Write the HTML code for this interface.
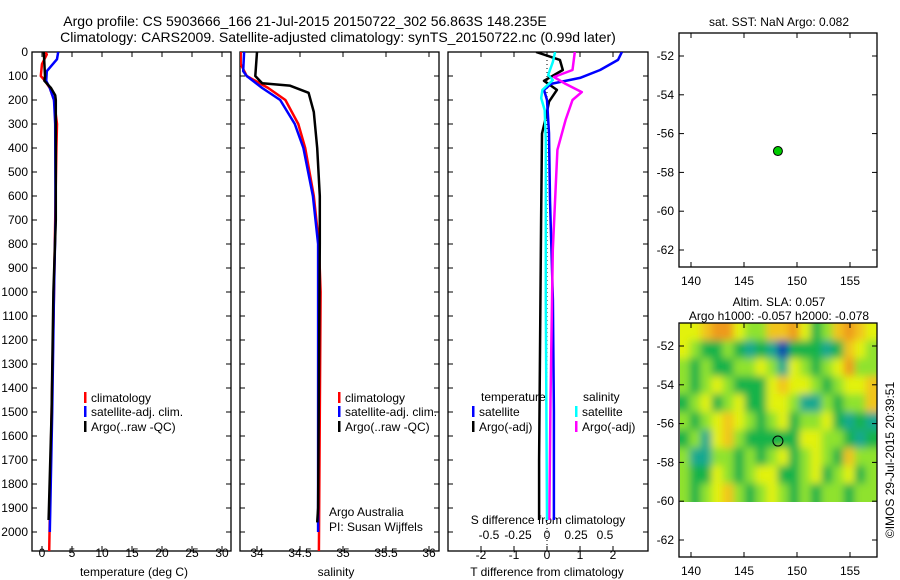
<!DOCTYPE html>
<html><head><meta charset="utf-8"><style>
body{margin:0;background:#fff;}
svg{display:block;font-family:"Liberation Sans",sans-serif;}
</style></head><body>
<svg id="c" width="900" height="580" xmlns="http://www.w3.org/2000/svg"></svg>
<script>
// ---------- data ----------
const tDepth = [0,10,50,100,120,150,200,300,400,700,1000,1500,2080];
const tClim  = [0.5,0.8,0,-0.2,0.5,1.3,2.0,2.5,2.4,2.2,2.0,1.6,1.2];
const tSatDepth = [0,30,80,120,150,200,300,700,1000,1500,2000];
const tSat   = [2.7,2.5,0.8,0.7,1.3,2.0,2.2,2.25,2.0,1.7,1.3];
const tArgoDepth = [0,100,120,150,180,200,700,1000,1500,1950];
const tArgo  = [0.3,0.5,0.4,1.5,2.2,2.3,2.3,1.9,1.6,1.1];

const sDepth = [0,50,100,150,200,300,400,600,800,1000,2080];
const sClim  = [33.81,33.81,33.88,34.13,34.33,34.48,34.56,34.66,34.72,34.74,34.72];
const sSatDepth = [0,80,100,150,200,300,400,600,800,2000];
const sSat   = [33.85,33.84,33.88,34.06,34.27,34.44,34.54,34.65,34.71,34.71];
const sArgoDepth = [0,100,130,140,170,250,400,600,800,1900,1960];
const sArgo  = [34.0,33.98,34.06,34.38,34.6,34.66,34.7,34.73,34.73,34.71,34.7];

const dTArgoDepth = [0,33,75,120,158,207,270,340,700,1200,1700,1950];
const dTArgo = [-0.33,0.39,0.48,-0.09,0.30,0.06,-0.03,-0.15,-0.18,-0.21,-0.24,-0.24];
const dTSatDepth = [0,33,75,108,133,158,200,338,617,1033,1500,1950];
const dTSat  = [2.27,2.15,1.61,1.0,0.12,-0.09,0,0.06,0.09,0.18,0.21,0.21];
const dSSatDepth = [0,42,96,117,158,192,242,367,1033,1950];
const dSSat  = [0.07,0.05,0.01,0.05,-0.04,-0.05,-0.02,-0.01,-0.01,0];
const dSArgoDepth = [0,75,104,133,167,200,283,408,825,1450,1950];
const dSArgo = [0.24,0.22,0.06,0.16,0.30,0.22,0.16,0.09,0.05,0.03,0.02];

const depthTicks = [0,100,200,300,400,500,600,700,800,900,1000,1100,1200,1300,1400,1500,1600,1700,1800,1900,2000];
const tTicks = [0,5,10,15,20,25,30];
const sTicks = [34,34.5,35,35.5,36];
const dTTicks = [-2,-1,0,1,2];
const dSTicks = [-0.5,-0.25,0,0.25,0.5];
const dSTickLabels = ["-0.5","-0.25","0","0.25","0.5"];
const lonTicks = [140,145,150,155];
const latTicks = [-52,-54,-56,-58,-60,-62];
const argoLon = 148.2, argoLat = -56.9;

const slaGrid = [
[2,2,3,4,4,2,1,1,3,3,4,2,0,1,3,4,3,2],
[2,1,0,0,1,0,-1,0,-1,-3,0,0,0,-1,0,3,2,1],
[1,0,1,0,0,1,1,2,1,-1,2,1,0,1,2,4,1,1],
[1,0,1,2,1,0,0,0,2,3,2,2,1,0,1,2,2,3],
[0,1,2,0,1,2,0,0,2,2,1,-1,-1,1,0,1,1,3],
[1,0,1,2,3,2,1,0,1,2,0,1,1,2,0,-1,0,-1],
[0,1,-1,2,3,1,0,0,0,0,0,2,2,1,1,0,-1,0],
[1,-1,-1,1,1,0,1,0,1,2,0,1,2,1,0,3,1,1],
[1,0,0,2,1,0,1,2,2,0,0,1,2,0,1,2,0,1],
[1,0,1,2,3,1,0,1,2,1,0,1,0,1,1,0,1,1]];

// ---------- helpers ----------
const svg = document.getElementById('c');
const NS = 'http://www.w3.org/2000/svg';
function mk(tag, attrs, parent){const e=document.createElementNS(NS,tag);for(const k in attrs)e.setAttribute(k,attrs[k]);(parent||svg).appendChild(e);return e;}
function txt(x,y,s,anchor,size,name){const t=mk('text',{x:x,y:y,'font-size':size||12,'text-anchor':anchor||'start',fill:'#000'});t.textContent=s;


return t;}

const yD = d => 52 + d*0.24;
const xT = v => 42 + v*6;
const xS = v => 257 + (v-34)*86;
const xDT = v => 547 + v*33;
const xDS = v => 547 + v*116;
const lonX = v => 797 + (v-150)*10.6;
const latYTop = v => 56 + (-52 - v)*19.4;
const latYBot = v => 346 + (-52 - v)*19.4;

function line(depths, vals, xf, color, name, clip){
  const pts = depths.map((d,i)=>xf(vals[i]).toFixed(1)+','+yD(d).toFixed(1)).join(' ');
  const p = mk('polyline',{points:pts,fill:'none',stroke:color,'stroke-width':2.5,'stroke-linejoin':'round','clip-path':'url(#'+clip+')'});
  
  
}
const defs = mk('defs',{});
function clipRect(id,x,y,w,h){const c=mk('clipPath',{id:id},defs);mk('rect',{x:x,y:y,width:w,height:h},c);}
clipRect('p1',32,52,199,499);clipRect('p2',240,52,199,499);clipRect('p3',448,52,200,499);clipRect('p5',680,323,197,179);
const flt = mk('filter',{id:'blur',x:'-10%',y:'-10%',width:'120%',height:'120%'},defs);
mk('feGaussianBlur',{stdDeviation:4},flt);

function panel(x,name){
  const r = mk('rect',{x:x,y:52,width:199,height:499,fill:'none',stroke:'#000','stroke-width':1.3});
  
  
  depthTicks.forEach(d=>{mk('line',{x1:x,x2:x+5,y1:yD(d),y2:yD(d),stroke:'#000'});mk('line',{x1:x+199,x2:x+194,y1:yD(d),y2:yD(d),stroke:'#000'});});
}

// titles
txt(305,26,'Argo profile: CS 5903666_166 21-Jul-2015 20150722_302 56.863S 148.235E','middle',14,'title-line-1');
txt(338,42,'Climatology: CARS2009. Satellite-adjusted climatology: synTS_20150722.nc (0.99d later)','middle',14,'title-line-2');

// panel 1
panel(32,'temperature-panel');
depthTicks.forEach(d=>txt(28,yD(d)+4,String(d),'end',12,'depth-tick-label'));
tTicks.forEach(v=>{mk('line',{x1:xT(v),x2:xT(v),y1:52,y2:57,stroke:'#000'});mk('line',{x1:xT(v),x2:xT(v),y1:551,y2:546,stroke:'#000'});txt(xT(v),557,String(v),'middle',12,'temperature-tick-label');});
txt(134,576,'temperature (deg C)','middle',12,'temperature-axis-title');
line(tDepth,tClim,xT,'#f00','temp-climatology-line','p1');
line(tSatDepth,tSat,xT,'#00f','temp-satellite-line','p1');
line(tArgoDepth,tArgo,xT,'#000','temp-argo-line','p1');

// panel 2
panel(240,'salinity-panel');
sTicks.forEach(v=>{mk('line',{x1:xS(v),x2:xS(v),y1:52,y2:57,stroke:'#000'});mk('line',{x1:xS(v),x2:xS(v),y1:551,y2:546,stroke:'#000'});txt(xS(v),557,String(v),'middle',12,'salinity-tick-label');});
txt(336,576,'salinity','middle',12,'salinity-axis-title');
line(sDepth,sClim,xS,'#f00','sal-climatology-line','p2');
line(sSatDepth,sSat,xS,'#00f','sal-satellite-line','p2');
line(sArgoDepth,sArgo,xS,'#000','sal-argo-line','p2');
txt(329,516,'Argo Australia','start',12,'argo-australia-note');
txt(329,531,'PI: Susan Wijffels','start',12,'pi-note');

// legends
function leg(x,y,color,label,name){mk('rect',{x:x,y:y-9,width:2.5,height:11,fill:color});txt(x+7,y+1,label,'start',12,name);}
leg(84,401,'#f00','climatology','legend-climatology');
leg(84,415,'#00f','satellite-adj. clim.','legend-satellite');
leg(84,430,'#000','Argo(..raw -QC)','legend-argo');
leg(338,401,'#f00','climatology','legend-climatology-2');
leg(338,415,'#00f','satellite-adj. clim.','legend-satellite-2');
leg(338,430,'#000','Argo(..raw -QC)','legend-argo-2');

// panel 3
mk('rect',{x:448,y:52,width:200,height:499,fill:'none',stroke:'#000','stroke-width':1.3});
depthTicks.forEach(d=>{mk('line',{x1:448,x2:453,y1:yD(d),y2:yD(d),stroke:'#000'});mk('line',{x1:648,x2:643,y1:yD(d),y2:yD(d),stroke:'#000'});});
mk('line',{x1:547,x2:547,y1:52,y2:551,stroke:'#000','stroke-dasharray':'1,3'});
dTTicks.forEach(v=>{mk('line',{x1:xDT(v),x2:xDT(v),y1:551,y2:546,stroke:'#000'});mk('line',{x1:xDT(v),x2:xDT(v),y1:52,y2:57,stroke:'#000'});txt(xDT(v),559,String(v),'middle',12,'tdiff-tick-label');});
dSTicks.forEach((v,i)=>txt(xDS(v),539,dSTickLabels[i],'middle',12,'sdiff-tick-label'));
txt(548,524,'S difference from climatology','middle',12,'sdiff-axis-title');
txt(547,576,'T difference from climatology','middle',12,'tdiff-axis-title');
line(dTArgoDepth,dTArgo,xDT,'#000','tdiff-argo-line','p3');
line(dTSatDepth,dTSat,xDT,'#00f','tdiff-satellite-line','p3');
line(dSArgoDepth,dSArgo,xDS,'#f0f','sdiff-argo-line','p3');
line(dSSatDepth,dSSat,xDS,'#0ff','sdiff-satellite-line','p3');
txt(481,401,'temperature','start',12,'legend-temperature-header');
txt(583,401,'salinity','start',12,'legend-salinity-header');
leg(472,415,'#00f','satellite','legend-t-satellite');
leg(472,430,'#000','Argo(-adj)','legend-t-argo');
leg(575,415,'#0ff','satellite','legend-s-satellite');
leg(575,430,'#f0f','Argo(-adj)','legend-s-argo');

// map panels
function mapFrame(y0,h,latY,name){
  const r=mk('rect',{x:679,y:y0,width:198,height:h,fill:'none',stroke:'#000','stroke-width':1.3});
  
  
  latTicks.forEach(v=>{const y=latY(v);mk('line',{x1:679,x2:684,y1:y,y2:y,stroke:'#000'});mk('line',{x1:877,x2:872,y1:y,y2:y,stroke:'#000'});txt(674,y+4,String(v),'end',12,'lat-tick-label');});
  lonTicks.forEach(v=>{const x=lonX(v);mk('line',{x1:x,x2:x,y1:y0+h,y2:y0+h-5,stroke:'#000'});mk('line',{x1:x,x2:x,y1:y0,y2:y0+5,stroke:'#000'});txt(x,y0+h+18,String(v),'middle',12,'lon-tick-label');});
}
txt(779,26,'sat. SST: NaN Argo: 0.082','middle',12,'sst-title');
mapFrame(33,234,latYTop,'sst-map');
const d1=mk('circle',{cx:lonX(argoLon),cy:latYTop(argoLat),r:4.5,fill:'#0c0',stroke:'#000','stroke-width':1});



// SLA heatmap
const palette = {'-3':'#0a3fb0','-2':'#1e8ed8','-1':'#16a890','0':'#19b34a','1':'#8fe22e','2':'#e2f20a','3':'#f2c41e','4':'#ee9a1e'};
const g = mk('g',{'clip-path':'url(#p5)'});
mk('rect',{x:679,y:323,width:199,height:180,fill:'#8fe22e'},g);
const g2 = mk('g',{filter:'url(#blur)'},g);
const rows = slaGrid.length, cols = slaGrid[0].length;
const cw = 198/cols, ch = (502-323)/rows;
slaGrid.forEach((row,ri)=>row.forEach((v,ci)=>{
  // extend edge cells outward so blur does not fade at borders
  let x = 679+ci*cw, y = 323+ri*ch, w = cw, h = ch;
  if(ci===0){x-=12;w+=12;} if(ci===cols-1){w+=12;}
  if(ri===0){y-=12;h+=12;} if(ri===rows-1){h+=12;}
  const c = mk('rect',{x:(x-0.5).toFixed(1),y:(y-0.5).toFixed(1),width:(w+1).toFixed(1),height:(h+1).toFixed(1),fill:palette[String(v)]},g2);
  
  
}));
txt(779,306,'Altim. SLA: 0.057','middle',12,'sla-title');
txt(779,320,'Argo h1000: -0.057 h2000: -0.078','middle',12,'sla-subtitle');
mapFrame(323,234,latYBot,'sla-map');
const d2=mk('circle',{cx:lonX(argoLon),cy:latYBot(argoLat),r:5,fill:'none',stroke:'#000','stroke-width':1});


const cr=txt(0,0,'©IMOS 29-Jul-2015 20:39:51','middle',12,'copyright-stamp');
cr.setAttribute('transform','translate(894,460) rotate(-90)');
</script>
</body></html>
